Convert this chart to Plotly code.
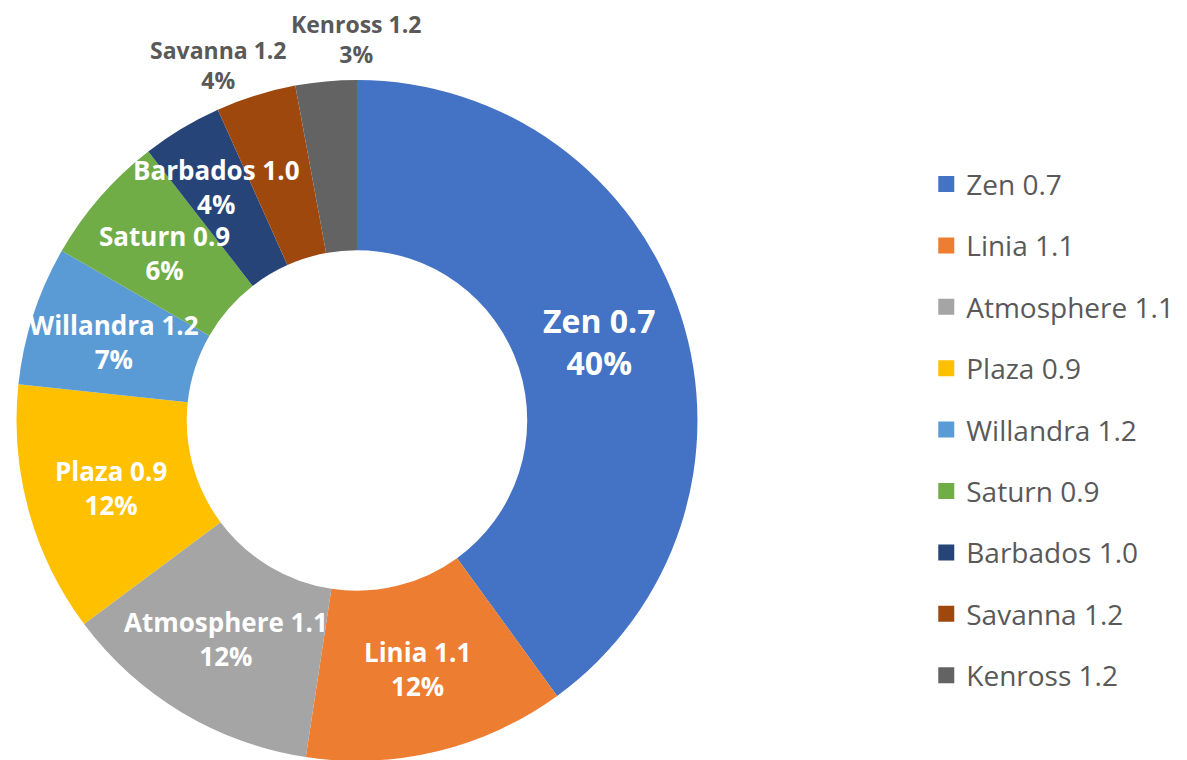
import math
import plotly.graph_objects as go

labels = ["Zen 0.7", "Linia 1.1", "Atmosphere 1.1", "Plaza 0.9", "Willandra 1.2",
          "Saturn 0.9", "Barbados 1.0", "Savanna 1.2", "Kenross 1.2"]
values = [40.0, 12.4, 12.4, 11.9, 6.6, 6.2, 3.8, 3.8, 2.9]
colors = ["#4472C4", "#ED7D31", "#A5A5A5", "#FFC000", "#5B9BD5",
          "#70AD47", "#264478", "#9E480E", "#636363"]
# labels drawn outside the ring, with a small angular nudge (degrees)
outside = {"Savanna 1.2": -4, "Kenross 1.2": 5}
# labels pushed a bit further out to avoid overlapping neighbours
radius_override = {"Barbados 1.0": 0.80}

W, H = 1187, 760
dom_x = [0.0059, 0.5821]
dom_y = [0.0093, 0.9053]
FONT = "Open Sans"

fig = go.Figure()
fig.add_trace(go.Pie(
    labels=labels, values=values, sort=False, direction="clockwise", rotation=0,
    hole=0.5, marker=dict(colors=colors, line=dict(width=0)),
    textinfo="none", hoverinfo="label+percent", showlegend=False,
    domain=dict(x=dom_x, y=dom_y),
))

# legend entries as separate groups so the spacing can match
for lab, col in zip(labels, colors):
    fig.add_trace(go.Scatter(
        x=[None], y=[None], mode="markers", name=lab, legendgroup=lab,
        marker=dict(symbol="square", size=16, color=col),
    ))

# data labels, placed at the middle of each slice
cx = (dom_x[0] + dom_x[1]) / 2 * W
cy = H - (dom_y[0] + dom_y[1]) / 2 * H
R = min((dom_x[1] - dom_x[0]) * W, (dom_y[1] - dom_y[0]) * H) / 2
total = sum(values)
cum = 0
for lab, v in zip(labels, values):
    mid = (cum + v / 2) / total * 2 * math.pi
    cum += v
    pct = round(v / total * 100)
    if lab in outside:
        mid += math.radians(outside[lab])
        r, color, size = R * 1.12, "#595959", 23
    else:
        r, color, size = R * radius_override.get(lab, 0.75), "white", 26
    if lab == "Zen 0.7":
        size = 32
    px = cx + r * math.sin(mid)
    py = cy - r * math.cos(mid)
    fig.add_annotation(
        x=px / W, y=1 - py / H, xref="paper", yref="paper", showarrow=False,
        xanchor="center", yanchor="middle",
        text=f"<b>{lab}</b><br><b>{pct}%</b>",
        font=dict(family=FONT, size=size, color=color),
    )

fig.update_layout(
    width=W, height=H, margin=dict(l=0, r=0, t=0, b=0),
    paper_bgcolor="white", plot_bgcolor="white",
    xaxis=dict(visible=False), yaxis=dict(visible=False),
    legend=dict(x=0.7736, xanchor="left", y=0.445, yanchor="middle",
                font=dict(family=FONT, size=28, color="#595959"),
                tracegroupgap=22),
    font=dict(family=FONT),
)

fig.write_html("out.html")
